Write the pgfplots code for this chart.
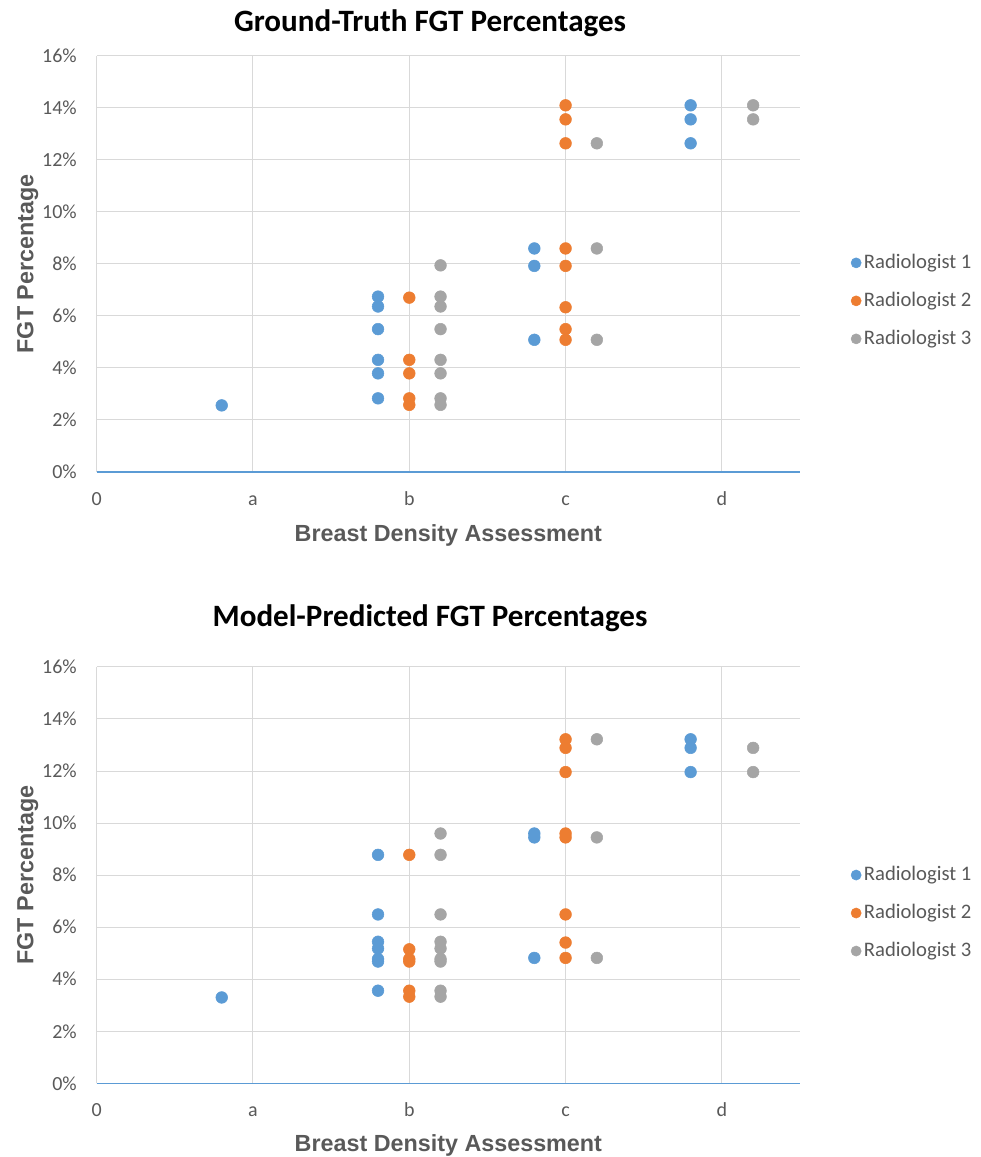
\documentclass[border=0pt]{standalone}
\usepackage{pgfplots}
\pgfplotsset{compat=1.18}
\usepackage{fontspec}
\setmainfont{Carlito}
\newfontfamily\labfont{Liberation Sans}
\definecolor{rone}{HTML}{5B9BD5}
\definecolor{rtwo}{HTML}{ED7D31}
\definecolor{rthree}{HTML}{A5A5A5}
\definecolor{gridc}{HTML}{D9D9D9}
\definecolor{txt}{HTML}{595959}

\pgfplotsset{
  fgt/.style={
    scale only axis, width=527.5pt, height=312.3pt,
    xmin=0, xmax=4.5, ymin=0, ymax=16,
    xtick={0,1,2,3,4}, xticklabels={0,a,b,c,d},
    ytick={0,2,4,6,8,10,12,14,16},
    yticklabels={0\%,2\%,4\%,6\%,8\%,10\%,12\%,14\%,16\%},
    axis line style={draw=none}, major tick length=0pt,
    grid=major, major grid style={gridc, line width=0.75pt},
    tick label style={font=\fontsize{15}{18}\selectfont, text=txt, inner sep=0pt},
    xticklabel style={anchor=base, yshift=-24.75pt},
    yticklabel style={anchor=east, xshift=-14.8pt},
    xlabel={Breast Density Assessment}, ylabel={FGT Percentage},
    label style={font=\labfont\bfseries\fontsize{17.5}{20}\selectfont, text=txt},
    ylabel style={at={(axis description cs:-0.0901,0.5)}, anchor=base},
    xlabel style={at={(axis description cs:0.5,-0.1659)}, anchor=base},
    title style={font=\bfseries\fontsize{23.3}{27}\selectfont, text=black, anchor=base, yshift=-6pt},
    legend style={at={(axis description cs:1.0722,0.411)}, anchor=west,
      draw=none, fill=none, inner sep=0pt,
      font=\fontsize{15.5}{18}\selectfont, text=txt, row sep=10.5pt,
      nodes={text height=11pt, text depth=3pt, inner sep=2pt}},
    legend cell align=left,
    legend image code/.code={\draw[#1] plot coordinates {(3.8pt,0pt)};},
    legend image post style={mark size=3.8pt},
  },
  r1/.style={only marks, mark=*, mark size=4.4pt, color=rone, mark options={draw=none, fill=rone}},
  r2/.style={only marks, mark=*, mark size=4.4pt, color=rtwo, mark options={draw=none, fill=rtwo}},
  r3/.style={only marks, mark=*, mark size=4.4pt, color=rthree, mark options={draw=none, fill=rthree}},
}

\begin{document}
\begin{tikzpicture}
\useasboundingbox (0,0) rectangle (735.75pt,-867.75pt);

% ---------- top chart ----------
\begin{axis}[fgt, at={(72.525pt,-354pt)}, anchor=south west,
  title={Ground-Truth FGT Percentages},
  title style={at={(axis description cs:0.474,1.0584)}}]
\draw[rone, line width=1pt] (axis cs:0,0) -- (axis cs:4.5,0);
\addplot[r1] coordinates {
 (0.8,2.56) (1.8,6.74) (1.8,6.36) (1.8,5.49) (1.8,4.31) (1.8,3.79) (1.8,2.83)
 (2.8,8.59) (2.8,7.92) (2.8,5.08) (3.8,14.09) (3.8,13.55) (3.8,12.63)};
\addplot[r2] coordinates {
 (2,6.70) (2,4.31) (2,3.79) (2,2.83) (2,2.58)
 (3,14.09) (3,13.55) (3,12.63) (3,8.59) (3,7.92) (3,6.33) (3,5.49) (3,5.08)};
\addplot[r3] coordinates {
 (2.2,7.94) (2.2,6.74) (2.2,6.36) (2.2,5.49) (2.2,4.31) (2.2,3.79) (2.2,2.83) (2.2,2.58)
 (3.2,12.63) (3.2,8.59) (3.2,5.08) (4.2,14.09) (4.2,13.55)};
\legend{Radiologist 1,Radiologist 2,Radiologist 3}
\end{axis}

% ---------- bottom chart ----------
\begin{axis}[fgt, at={(72.525pt,-812.5pt)}, anchor=south west,
  title={Model-Predicted FGT Percentages},
  title style={at={(axis description cs:0.474,1.0977)}},
  xlabel style={at={(axis description cs:0.5,-0.164)}},
  legend style={at={(axis description cs:1.0722,0.409)}}]
\draw[rone, line width=1pt] (axis cs:0,0) -- (axis cs:4.5,0);
\addplot[r1] coordinates {
 (0.8,3.30) (1.8,8.78) (1.8,6.49) (1.8,5.44) (1.8,5.18) (1.8,4.78) (1.8,4.68) (1.8,3.56)
 (2.8,9.60) (2.8,9.45) (2.8,4.82) (3.8,13.22) (3.8,12.89) (3.8,11.96)};
\addplot[r2] coordinates {
 (2,8.78) (2,5.15) (2,4.78) (2,4.68) (2,3.56) (2,3.33)
 (3,13.22) (3,12.89) (3,11.96) (3,9.60) (3,9.45) (3,6.49) (3,5.41) (3,4.82)};
\addplot[r3] coordinates {
 (2.2,9.60) (2.2,8.78) (2.2,6.49) (2.2,5.44) (2.2,5.18) (2.2,4.78) (2.2,4.68) (2.2,3.56) (2.2,3.33)
 (3.2,13.22) (3.2,9.45) (3.2,4.82) (4.2,12.89) (4.2,11.96)};
\legend{Radiologist 1,Radiologist 2,Radiologist 3}
\end{axis}
\end{tikzpicture}
\end{document}
